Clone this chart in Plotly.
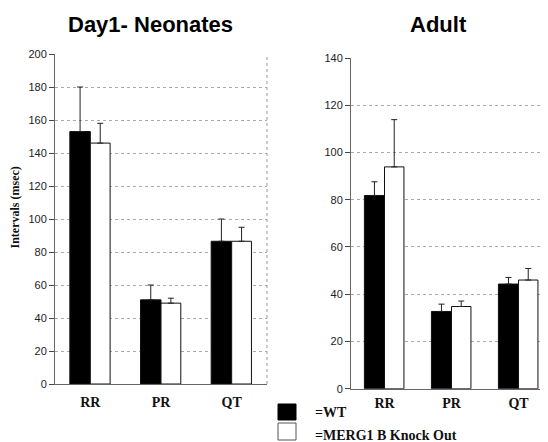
import plotly.graph_objects as go

categories = ["RR", "PR", "QT"]

neo_wt = [153, 51, 86.5]
neo_wt_err = [27, 9, 13.5]
neo_ko = [146, 49, 86.5]
neo_ko_err = [12, 3, 8.5]

adult_wt = [81.8, 32.7, 44.3]
adult_wt_err = [5.8, 3.1, 2.8]
adult_ko = [93.9, 34.8, 46.0]
adult_ko_err = [20.0, 2.3, 4.9]

neo_ticks = list(range(0, 201, 20))
adult_ticks = list(range(0, 141, 20))

W, H = 548, 442
OFF = 8  # page body margin


def px(x):
    return (x - OFF) / W


def py(y):
    return (H - (y - OFF)) / H


def bar(x, y, err, xa, ya, fill, offset, width):
    return go.Bar(
        x=x, y=y, xaxis=xa, yaxis=ya, width=width, offset=offset,
        marker=dict(color=fill, line=dict(color="#111", width=1)),
        error_y=dict(type="data", symmetric=False, array=err,
                     arrayminus=[0] * len(err), color="#222", thickness=1, width=3),
        showlegend=False,
    )

fig = go.Figure()
fig.add_trace(bar(categories, neo_wt, neo_wt_err, "x", "y", "black", -0.29, 0.29))
fig.add_trace(bar(categories, neo_ko, neo_ko_err, "x", "y", "white", 0.0, 0.28))
fig.add_trace(bar(categories, adult_wt, adult_wt_err, "x2", "y2", "black", -0.30, 0.30))
fig.add_trace(bar(categories, adult_ko, adult_ko_err, "x2", "y2", "white", 0.0, 0.29))

tickfont = dict(family="Liberation Sans, Arial", size=11, color="#222")
catfont = dict(family="Liberation Serif, Times New Roman", size=14, color="#111",
               weight="bold")
grid = dict(showgrid=True, gridcolor="#aaa", gridwidth=1, griddash="dot")

fig.update_layout(
    width=W, height=H, margin=dict(l=0, r=0, t=0, b=0, autoexpand=False),
    paper_bgcolor="white", plot_bgcolor="white", barmode="overlay",
    xaxis=dict(domain=[px(55), px(267)], anchor="y", range=[-0.5, 2.5],
               showline=True, linecolor="#666", linewidth=1, automargin=False,
               ticks="outside", ticklen=5, tickcolor="rgba(0,0,0,0)",
               tickfont=catfont, showgrid=False, zeroline=False),
    yaxis=dict(domain=[py(384), py(54)], anchor="x", range=[0, 200],
               tickvals=neo_ticks, showline=True, linecolor="#666", linewidth=1,
               automargin=False,
               ticks="outside", ticklen=5, tickcolor="#444", tickfont=tickfont,
               zeroline=False, **grid),
    xaxis2=dict(domain=[px(351), px(548)], anchor="y2", range=[-0.5, 2.44],
                showline=True, linecolor="#666", linewidth=1, automargin=False,
                ticks="outside", ticklen=1, tickcolor="rgba(0,0,0,0)",
                tickfont=catfont, showgrid=False, zeroline=False),
    yaxis2=dict(domain=[py(388.7), py(58)], anchor="x2", range=[0, 140],
                tickvals=adult_ticks, showline=True, linecolor="#666", linewidth=1,
                automargin=False,
                ticks="outside", ticklen=5, tickcolor="#444", tickfont=tickfont,
                zeroline=False, **grid),
)

# right border of left panel (dotted)
fig.add_shape(type="line", xref="x domain", yref="y domain", x0=1, x1=1, y0=0, y1=1,
              line=dict(color="#999", width=1, dash="dot"))

titlefont = dict(family="Liberation Sans, Arial", size=22, color="black")
fig.add_annotation(text="<b>Day1- Neonates</b>", xref="paper", yref="paper",
                   x=px(150), y=py(25), xanchor="center", yanchor="middle",
                   showarrow=False, font=titlefont)
fig.add_annotation(text="<b>Adult</b>", xref="paper", yref="paper",
                   x=px(438), y=py(25), xanchor="center", yanchor="middle",
                   showarrow=False, font=titlefont)
fig.add_annotation(text="<b>Intervals (msec)</b>", xref="paper", yref="paper",
                   x=px(15), y=py(207.5), xanchor="center", yanchor="middle",
                   showarrow=False, textangle=-90,
                   font=dict(family="Liberation Serif, Times New Roman", size=12, color="#111"))

# legend
fig.add_shape(type="rect", xref="paper", yref="paper",
              x0=px(278), x1=px(296), y0=py(420), y1=py(404),
              fillcolor="black", line=dict(color="black", width=1))
fig.add_shape(type="rect", xref="paper", yref="paper",
              x0=px(278), x1=px(296), y0=py(440), y1=py(423),
              fillcolor="white", line=dict(color="#555", width=1))
legfont = dict(family="Liberation Serif, Times New Roman", size=14, color="#111")
fig.add_annotation(text="<b>=WT</b>", xref="paper", yref="paper", x=px(313),
                   y=py(412), showarrow=False, xanchor="left", yanchor="middle", font=legfont)
fig.add_annotation(text="<b>=MERG1 B Knock Out</b>", xref="paper", yref="paper",
                   x=px(313), y=py(435), showarrow=False, xanchor="left", yanchor="middle",
                   font=legfont)

fig.write_html("out.html")
